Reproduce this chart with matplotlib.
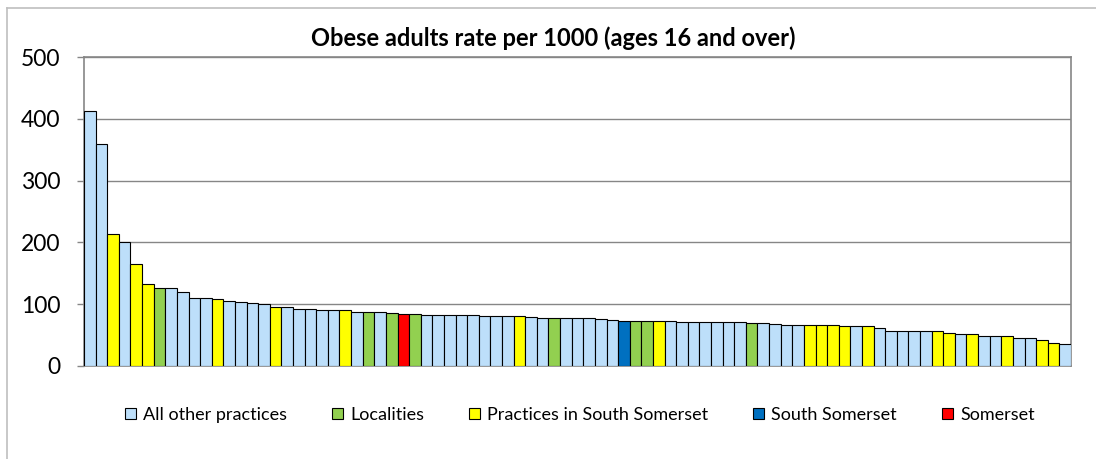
import matplotlib
matplotlib.use("Agg")
import matplotlib.pyplot as plt
from matplotlib.patches import Patch
from matplotlib.lines import Line2D

plt.rcParams["font.family"] = ["Lato", "DejaVu Sans"]

# bar heights, sorted high to low as in the source chart
values = [412, 359, 213, 200, 165, 133, 127, 126, 120, 110,
          110, 108, 105, 103, 102, 100, 95, 95, 93, 91.5,
          91, 90, 90, 88, 87, 87, 85, 84, 84, 83,
          83, 82, 82, 82, 81, 81, 81, 80.5, 79.5, 78,
          77, 77, 77, 77, 76, 75, 73.5, 73.5, 73.5, 73,
          73, 72, 71.5, 71.5, 71, 71, 71, 70, 69, 68,
          67, 67, 67, 66.5, 66, 64, 64, 64, 62, 57,
          57, 57, 56, 56, 53, 51, 51, 49, 48, 48,
          46, 45, 42, 37, 35]

# o = all other practices, g = localities, y = practices in South Somerset,
# b = South Somerset, r = Somerset
groups = list("ooyoyygooo"
              "oyooooyooo"
              "ooyogogrgo"
              "oooooooyoo"
              "gooooobggy"
              "ooooooogoo"
              "ooyyyyoyoo"
              "oooyyoyooy"
              "ooyyo")

group_names = ["All other practices", "Localities", "Practices in South Somerset",
               "South Somerset", "Somerset"]
group_keys = ["o", "g", "y", "b", "r"]
palette = {"o": "#BDDFFA", "g": "#92D050", "y": "#FFFF00", "b": "#0070C0", "r": "#FF0000"}

fig = plt.figure(figsize=(10.96, 4.59), dpi=100)
ax = fig.add_axes([84 / 1096, 1 - 366 / 459, (1071 - 84) / 1096, (366 - 57) / 459])

xs = list(range(len(values)))
ax.bar(xs, values, width=1.0, color=[palette[g] for g in groups],
       edgecolor="black", linewidth=0.8, zorder=3)

ax.set_xlim(-0.5, len(values) - 0.5)
ax.set_ylim(0, 500)
ax.set_yticks(range(0, 501, 100))
ax.set_xticks([])
ax.tick_params(axis="y", labelsize=16.5, length=5, width=1, color="#868686",
               pad=12, labelcolor="black")
ax.yaxis.grid(True, color="#868686", linewidth=1, zorder=0)
for s in ax.spines.values():
    s.set_color("#868686")
    s.set_linewidth(1.2)

fig.text(0.505, 1 - 38 / 459, "Obese adults rate per 1000 (ages 16 and over)",
         ha="center", va="center", fontsize=17, fontweight="bold")

handles = [Patch(facecolor=palette[k], edgecolor="black", linewidth=0.8) for k in group_keys]
fig.legend(handles, group_names, loc="center", bbox_to_anchor=(0.529, 1 - 415 / 459),
           ncol=5, frameon=False, fontsize=13, handlelength=0.6, handleheight=0.6,
           handletextpad=0.4, columnspacing=2.5)

# light chart border, left and top only as visible in the source
fig.add_artist(Line2D([7 / 1096, 7 / 1096], [0, 1 - 8 / 459], transform=fig.transFigure,
                      color="#BFBFBF", linewidth=1.2))
fig.add_artist(Line2D([7 / 1096, 1], [1 - 8 / 459, 1 - 8 / 459], transform=fig.transFigure,
                      color="#BFBFBF", linewidth=1.2))

fig.savefig("out.png", dpi=100)
